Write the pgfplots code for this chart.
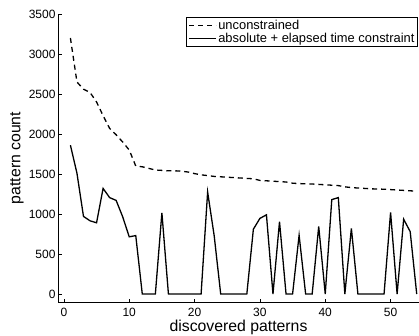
\documentclass[border=0pt]{standalone}
\usepackage{pgfplots}
\pgfplotsset{compat=1.18}
\usepackage{fontspec}
\setmainfont{Liberation Sans}
\begin{document}
\begin{tikzpicture}[x=1pt,y=1pt]
\begin{axis}[
  at={(58pt,33pt)}, anchor=south west,
  scale only axis, width=361pt, height=288pt,
  xmin=-0.9, xmax=54.35, ymin=-100, ymax=3500,
  axis lines*=left,
  axis line style={line width=0.9pt},
  tick align=inside, major tick length=3.5pt,
  tick style={line width=0.7pt, black},
  xtick={0,10,20,30,40,50},
  ytick={0,500,1000,1500,2000,2500,3000,3500},
  /pgf/number format/assume math mode=true,
  /pgf/number format/1000 sep={},
  ticklabel style={font=\fontsize{12}{13}\selectfont},
  yticklabel style={xshift=1pt},
  xticklabel style={yshift=-2.5pt},
  xlabel={discovered patterns}, ylabel={pattern count},
  label style={font=\fontsize{15.8}{17}\selectfont},
  xlabel style={at={(axis description cs:0.5,0)}, anchor=base, yshift=-29.7pt},
  ylabel style={at={(axis description cs:-0.1039,0.5)}, anchor=base},
  legend cell align=left,
  legend style={at={(rel axis cs:0.3546,0.9896)}, anchor=north west,
    font=\fontsize{12.9}{14}\selectfont, draw=black, line width=1pt,
    inner xsep=2pt, inner ysep=1pt, row sep=-0.5pt,
    nodes={inner sep=1.5pt}},
  legend image code/.code={\draw[#1] (0pt,0pt) -- (27pt,0pt);},
]
\addplot[black, line width=1.3pt, dash pattern=on 5pt off 4pt] coordinates {
(1,3200)(2,2650)(3,2560)(4,2520)(5,2400)(6,2230)(7,2070)(8,1990)(9,1900)(10,1800)
(11,1600)(12,1590)(13,1570)(14,1550)(15,1545)(16,1540)(17,1540)(18,1535)(19,1525)(20,1505)
(21,1490)(22,1480)(23,1470)(24,1465)(25,1460)(26,1455)(27,1450)(28,1445)(29,1440)(30,1420)
(31,1415)(32,1410)(33,1405)(34,1400)(35,1385)(36,1380)(37,1378)(38,1375)(39,1370)(40,1365)
(41,1360)(42,1355)(43,1340)(44,1330)(45,1325)(46,1320)(47,1315)(48,1312)(49,1310)(50,1305)
(51,1300)(52,1295)(53,1290)(54,1285)
};
\addlegendentry{unconstrained}
\addplot[black, line width=1.3pt] coordinates {
(1,1860)(2,1510)(3,970)(4,915)(5,890)(6,1320)(7,1205)(8,1170)(9,965)(10,715)
(11,730)(12,0)(13,0)(14,0)(15,1015)(16,0)(17,0)(18,0)(19,0)(20,0)
(21,0)(22,1275)(23,730)(24,0)(25,0)(26,0)(27,0)(28,0)(29,810)(30,945)
(31,990)(32,0)(33,905)(34,0)(35,0)(36,735)(37,0)(38,0)(39,845)(40,0)
(41,1180)(42,1205)(43,0)(44,820)(45,0)(46,0)(47,0)(48,0)(49,0)(50,1020)
(51,0)(52,935)(53,780)(54,0)
};
\addlegendentry{absolute + elapsed time constraint}
\end{axis}
\pgfresetboundingbox
\useasboundingbox (0,0) rectangle (419,335);
\end{tikzpicture}
\end{document}
